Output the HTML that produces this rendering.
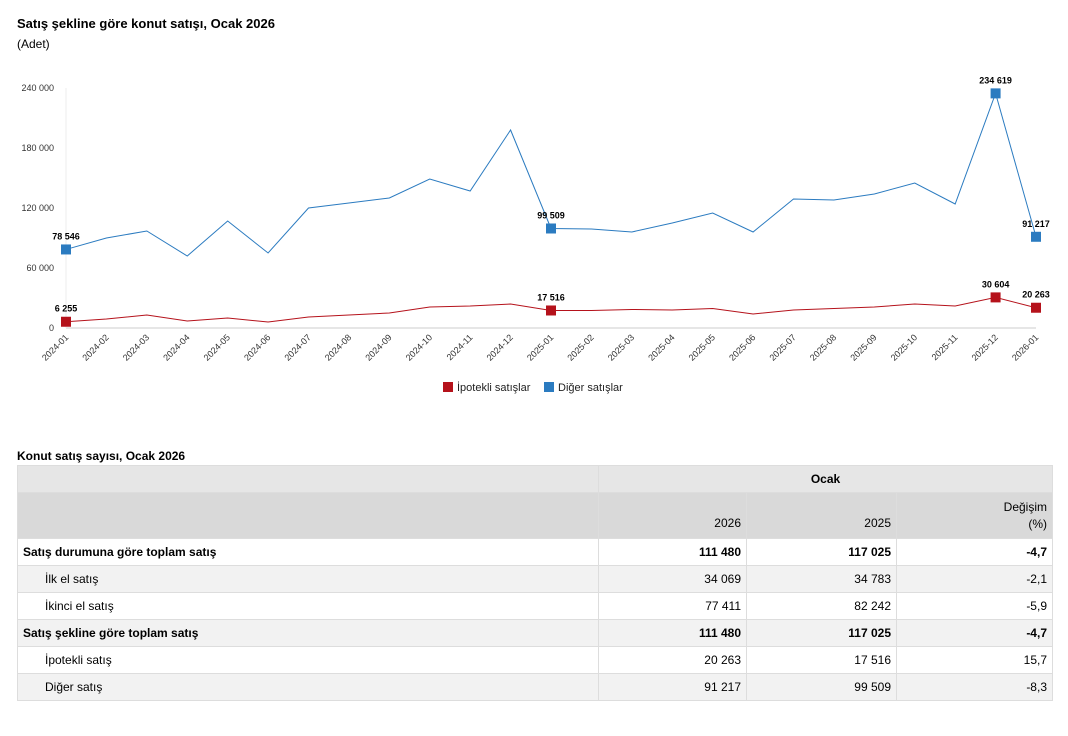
<!DOCTYPE html>
<html><head><meta charset="utf-8"><style>
body{margin:0;width:1068px;height:736px;background:#fff;font-family:"Liberation Sans",sans-serif;color:#000;position:relative;overflow:hidden}
.t{position:absolute;font-size:13px;font-weight:bold}
table{position:absolute;left:17px;top:465px;width:1036px;border-collapse:collapse;font-size:12px}
td{border:1px solid #ddd;padding:0 5px;height:26px;text-align:right}
td.l{text-align:left}
td.i{padding-left:27px;text-align:left}
tr.b td{font-weight:bold}
tr.g td{background:#f2f2f2}
</style></head><body>
<div class="t" style="left:17px;top:16px">Satış şekline göre konut satışı, Ocak 2026</div>
<div style="position:absolute;left:17px;top:37px;font-size:12px">(Adet)</div>
<svg id="chart" width="1068" height="420" style="position:absolute;left:0;top:0"></svg>
<div class="t" style="left:17px;top:449px;font-size:12px">Konut satış sayısı, Ocak 2026</div>
<table>
<tr style="background:#e6e6e6;height:27px"><td style="width:570px"></td><td colspan="3" style="text-align:center;font-weight:bold">Ocak</td></tr>
<tr style="background:#d9d9d9;height:46px"><td></td><td style="width:137px;vertical-align:bottom;padding-bottom:8px">2026</td><td style="width:139px;vertical-align:bottom;padding-bottom:8px">2025</td><td style="line-height:17px">Değişim<br>(%)</td></tr>
<tr class="b"><td class="l">Satış durumuna göre toplam satış</td><td>111 480</td><td>117 025</td><td>-4,7</td></tr>
<tr class="g"><td class="i">İlk el satış</td><td>34 069</td><td>34 783</td><td>-2,1</td></tr>
<tr><td class="i">İkinci el satış</td><td>77 411</td><td>82 242</td><td>-5,9</td></tr>
<tr class="g b"><td class="l">Satış şekline göre toplam satış</td><td>111 480</td><td>117 025</td><td>-4,7</td></tr>
<tr><td class="i">İpotekli satış</td><td>20 263</td><td>17 516</td><td>15,7</td></tr>
<tr class="g"><td class="i">Diğer satış</td><td>91 217</td><td>99 509</td><td>-8,3</td></tr>
</table>
<script>
const categories=["2024-01","2024-02","2024-03","2024-04","2024-05","2024-06","2024-07","2024-08","2024-09","2024-10","2024-11","2024-12","2025-01","2025-02","2025-03","2025-04","2025-05","2025-06","2025-07","2025-08","2025-09","2025-10","2025-11","2025-12","2026-01"];
const mortgage=[6255,9000,13000,7000,10000,6000,11000,13000,15000,21000,22000,24000,17516,17500,18500,18000,19500,14000,18000,19500,21000,24000,22000,30604,20263];
const other=[78546,90000,97000,72000,107000,75000,120000,125000,130000,149000,137000,198000,99509,99000,96000,105000,115000,96000,129000,128000,134000,145000,124000,234619,91217];
const yTicks=[0,60000,120000,180000,240000];
const markIdx=[0,12,23,24];
const svg=document.getElementById('chart');const NS='http://www.w3.org/2000/svg';
const x=i=>66+i*(1036-66)/(categories.length-1);
const y=v=>328-v*(240/240000);
const fmt=v=>String(v).replace(/\B(?=(\d{3})+(?!\d))/g,' ');
function el(t,a,txt){const e=document.createElementNS(NS,t);for(const k in a)e.setAttribute(k,a[k]);if(txt!=null)e.textContent=txt;svg.appendChild(e);return e;}
let ax=el('line',{x1:66,x2:1036,y1:328,y2:328,stroke:'#ccc'});

yTicks.forEach(v=>{const t=el('text',{x:54,y:y(v)+3,'text-anchor':'end','font-size':9,fill:'#333'},fmt(v));
});
let yl=el('line',{x1:66,x2:66,y1:88,y2:328,stroke:'#eee'});
categories.forEach((c,i)=>{const t=el('text',{x:x(i)+3,y:338,'text-anchor':'end','font-size':9,fill:'#333',transform:`rotate(-45 ${x(i)+3} 338)`},c);
});
[[mortgage,'#b5121b','mortgage'],[other,'#2b7bc0','other']].forEach(([d,col,n])=>{
const p=el('polyline',{points:d.map((v,i)=>x(i)+','+y(v)).join(' '),fill:'none',stroke:col,'stroke-width':1});

markIdx.forEach(i=>{const r=el('rect',{x:x(i)-5,y:y(d[i])-5,width:10,height:10,fill:col});

const t=el('text',{x:x(i),y:y(d[i])-10,'text-anchor':'middle','font-size':9,'font-weight':'bold'},fmt(d[i]));
});});
[['#b5121b','İpotekli satışlar',443],['#2b7bc0','Diğer satışlar',544]].forEach(([c,l,lx])=>{
const r=el('rect',{x:lx,y:382,width:10,height:10,fill:c});
const t=el('text',{x:lx+14,y:391,'font-size':11,fill:'#222'},l);});
</script>
</body></html>
